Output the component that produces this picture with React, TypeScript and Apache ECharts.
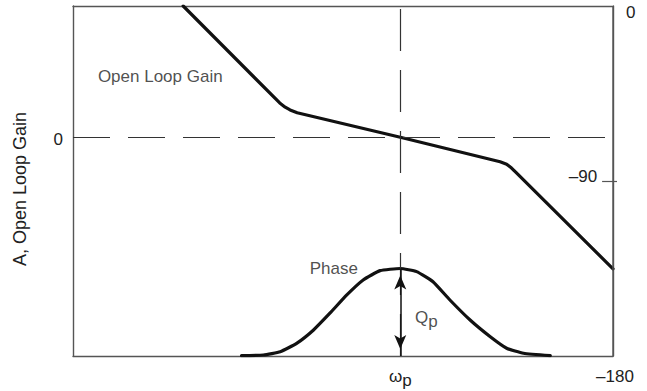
import React, { useEffect, useRef } from "react";
import * as echarts from "echarts";

// x: log-frequency (arbitrary units), gain: dB-like units, phase: degrees
const xRange = [0, 99];
const gainRange = [-62.5, 37.5];
const phaseRange = [-180, 0];

const gainX = [20.2, 37.9, 38.9, 39.8, 41.1, 60, 78.3, 79.5, 80.4, 81.3, 99];
const gainY = [37.5, 9.8, 8.6, 7.8, 7.0, 0, -7.0, -7.7, -8.8, -10.2, -37.6];

const phaseX = [30.9, 34.9, 38.0, 41.0, 44.1, 47.1, 50.2, 53.2, 56.3, 60, 63.0, 66.0, 69.1, 72.8, 76.5, 79.5, 82.6, 87.5];
const phaseY = [-179.8, -179.5, -177.8, -173.5, -166.6, -158.0, -148.6, -140.9, -136.1, -135, -136.6, -141.8, -151.2, -161.5, -170.1, -176.0, -178.6, -179.8];

const omegaP = 60;
const phasePeak = -135;

const gainTicks = [0];
const phaseTopTick = 0;
const phaseMidTick = -90;
const phaseBottomLabel = "–180";
const midTickSpan = [97.0, 99];

const gainLabel = { text: "Open Loop Gain", x: 16, y: 17.5 };
const phaseLabel = { text: "Phase", x: 47.8, y: -135 };
const qLabel = { x: 62.7, y: -160 };

export default function App() {
  const ref = useRef<HTMLDivElement>(null);
  useEffect(() => {
    const chart = echarts.init(ref.current!, null, { renderer: "svg" });
    const font = "'Liberation Sans', Arial, sans-serif";
    const txt = "#222";
    const fs = 17;
    const frameColor = "#555";
    const frame = () => ({ show: true, onZero: false, lineStyle: { color: frameColor, width: 1.4 } });
    const fmtNum = (v: number) => (v < 0 ? "–" + Math.abs(v) : String(v));

    chart.setOption({
      animation: false,
      backgroundColor: "#fff",
      textStyle: { fontFamily: font },
      grid: { left: 73, right: 34, top: 6, bottom: 35 },
      xAxis: [
        {
          type: "value", min: xRange[0], max: xRange[1], position: "bottom",
          axisLine: frame(), axisTick: { show: false }, splitLine: { show: false },
          axisLabel: {
            customValues: [omegaP], margin: 8, color: txt, fontSize: fs, fontFamily: font,
            formatter: () => "{w|ω}{s|p}",
            rich: {
              w: { fontSize: fs, fontFamily: font, color: txt },
              s: { fontSize: fs, fontFamily: font, color: txt, padding: [8, 0, 0, 0] },
            },
          },
        },
        {
          type: "value", min: xRange[0], max: xRange[1], position: "top",
          axisLine: frame(), axisTick: { show: false }, splitLine: { show: false }, axisLabel: { show: false },
        },
      ],
      yAxis: [
        {
          type: "value", min: gainRange[0], max: gainRange[1], position: "left",
          axisLine: frame(), axisTick: { show: false }, splitLine: { show: false },
          axisLabel: {
            customValues: gainTicks, margin: 10, color: txt, fontSize: fs, fontFamily: font,
            formatter: (v: number) => "{a|" + fmtNum(v) + "}",
            rich: { a: { fontSize: fs, fontFamily: font, color: txt, padding: [4, 0, 0, 0] } },
          },
          name: "A, Open Loop Gain", nameLocation: "middle", nameGap: 44,
          nameTextStyle: { fontSize: 18, fontFamily: font, color: txt, padding: [0, 16, 0, 0] },
        },
        {
          type: "value", min: phaseRange[0], max: phaseRange[1], position: "right",
          axisLine: frame(), splitLine: { show: false },
          axisTick: { show: true, customValues: [phaseMidTick], length: 4, lineStyle: { color: frameColor, width: 1.2 } },
          axisLabel: {
            customValues: [phaseTopTick], margin: 13, color: txt, fontSize: fs, fontFamily: font,
            formatter: (v: number) => "{a|" + fmtNum(v) + "}",
            rich: { a: { fontSize: fs, fontFamily: font, color: txt, padding: [12, 0, 0, 0] } },
          },
          name: phaseBottomLabel, nameLocation: "start", nameGap: 12,
          nameTextStyle: { fontSize: fs, fontFamily: font, color: txt, padding: [0, 0, 0, 4] },
        },
      ],
      series: [
        {
          name: "gain", type: "line", xAxisIndex: 0, yAxisIndex: 0,
          data: gainX.map((x, i) => [x, gainY[i]]),
          showSymbol: false, smooth: false,
          lineStyle: { color: "#111", width: 3.2, join: "round", cap: "round" },
          markLine: {
            silent: true, symbol: "none", label: { show: false },
            data: [
              { yAxis: 0, lineStyle: { type: [37, 18], color: "#333", width: 1.2 } },
              { xAxis: omegaP, lineStyle: { type: [42, 19], color: "#333", width: 1.2 } },
            ],
          },
        },
        {
          name: "phase", type: "line", xAxisIndex: 0, yAxisIndex: 1,
          data: phaseX.map((x, i) => [x, phaseY[i]]),
          showSymbol: false, smooth: 0.15,
          lineStyle: { color: "#111", width: 3.2, join: "round", cap: "round" },
          markLine: {
            silent: true, symbol: "none",
            data: [
              [
                {
                  coord: [omegaP, phasePeak], symbol: "arrow", symbolSize: [9, 14], symbolOffset: [0, 7],
                  lineStyle: { type: "solid", color: "#111", width: 1.5 }, label: { show: false },
                },
                { coord: [omegaP, phaseRange[0]], symbol: "arrow", symbolSize: [9, 14], symbolOffset: [0, 7] },
              ],
              [
                {
                  coord: [midTickSpan[0], phaseMidTick],
                  lineStyle: { type: "solid", color: frameColor, width: 1.2 },
                  label: {
                    show: true, position: "start", distance: 5, formatter: fmtNum(phaseMidTick),
                    color: txt, fontSize: fs, fontFamily: font, offset: [0, -5],
                  },
                },
                { coord: [midTickSpan[1], phaseMidTick] },
              ],
            ],
          },
        },
        {
          name: "gainText", type: "scatter", xAxisIndex: 0, yAxisIndex: 0, silent: true,
          symbolSize: 1, itemStyle: { color: "rgba(0,0,0,0)" },
          data: [{ value: [gainLabel.x, gainLabel.y], name: gainLabel.text }],
          label: { show: true, position: "inside", formatter: "{b}", color: txt, fontSize: fs, fontFamily: font, align: "center", verticalAlign: "middle" },
        },
        {
          name: "phaseText", type: "scatter", xAxisIndex: 0, yAxisIndex: 1, silent: true,
          symbolSize: 1, itemStyle: { color: "rgba(0,0,0,0)" },
          data: [
            { value: [phaseLabel.x, phaseLabel.y], name: phaseLabel.text },
            {
              value: [qLabel.x, qLabel.y], name: "Qp",
              label: {
                align: "left",
                formatter: "{q|Q}{s|p}",
                rich: {
                  q: { fontSize: fs, fontFamily: font, color: txt },
                  s: { fontSize: fs, fontFamily: font, color: txt, padding: [8, 0, 0, 0] },
                },
              },
            },
          ],
          label: { show: true, position: "inside", formatter: "{b}", color: txt, fontSize: fs, fontFamily: font, align: "center", verticalAlign: "middle" },
        },
      ],
    });

    // Right frame edge drawn through the library's own scales
    const top = chart.convertToPixel({ xAxisIndex: 0, yAxisIndex: 0 }, [xRange[1], gainRange[1]]) as number[];
    const bottom = chart.convertToPixel({ xAxisIndex: 0, yAxisIndex: 0 }, [xRange[1], gainRange[0]]) as number[];
    if (top && bottom) {
      chart.setOption({
        graphic: [
          {
            type: "line", z: 100, silent: true,
            shape: { x1: top[0], y1: top[1], x2: bottom[0], y2: bottom[1] },
            style: { stroke: frameColor, lineWidth: 1.4 },
          },
        ],
      });
    }
    return () => chart.dispose();
  }, []);
  return <div ref={ref} style={{ position: "fixed", left: 0, top: 0, width: 647, height: 391 }} />;
}
